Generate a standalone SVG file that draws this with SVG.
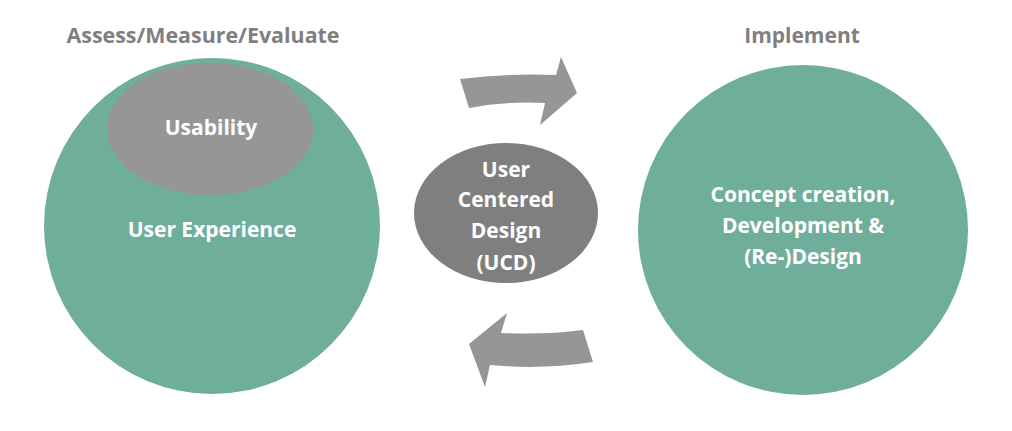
<svg xmlns="http://www.w3.org/2000/svg" width="1012" height="431" viewBox="0 0 1012 431">
<style>
.t{font-family:"Open Sans","Liberation Sans",sans-serif;font-weight:bold;font-size:21px;text-anchor:middle;fill:#fff}
.h{fill:#7f7f7f}
.teal{fill:#70ae9c}
.gray{fill:#969696}
</style>
<rect width="1012" height="431" fill="#fff"/>
<g id="title-left"><text class="t h" x="203" y="43" textLength="273" lengthAdjust="spacingAndGlyphs">Assess/Measure/Evaluate</text></g>
<g id="title-right"><text class="t h" x="802" y="43">Implement</text></g>
<g id="ux">
<circle class="teal" cx="212" cy="226" r="168"/>
<text class="t" x="212" y="237">User Experience</text>
</g>
<g id="usability">
<ellipse class="gray" cx="210" cy="129" rx="103" ry="66"/>
<text class="t" x="211" y="135">Usability</text>
</g>
<g id="implement">
<circle class="teal" cx="803" cy="230" r="165"/>
<text class="t" x="803" y="202">Concept creation,</text>
<text class="t" x="803" y="233">Development &amp;</text>
<text class="t" x="803" y="264">(Re-)Design</text>
</g>
<g id="ucd">
<ellipse cx="506" cy="213" rx="92" ry="70" fill="#7f7f7f"/>
<text class="t" x="506" y="177">User</text>
<text class="t" x="506" y="207">Centered</text>
<text class="t" x="506" y="238">Design</text>
<text class="t" x="506" y="270">(UCD)</text>
</g>
<g id="connectors">
<path class="gray" d="M460 79 Q510 73 556 75 L561 57 L577 93 L540 125 L545 103 Q505 101 469 108 Z"/>
<path class="gray" d="M469 344 L507 313 L501 333 Q545 335 583 330 L593 362 Q540 370 490 365 L485 387 Z"/>
</g>
</svg>
